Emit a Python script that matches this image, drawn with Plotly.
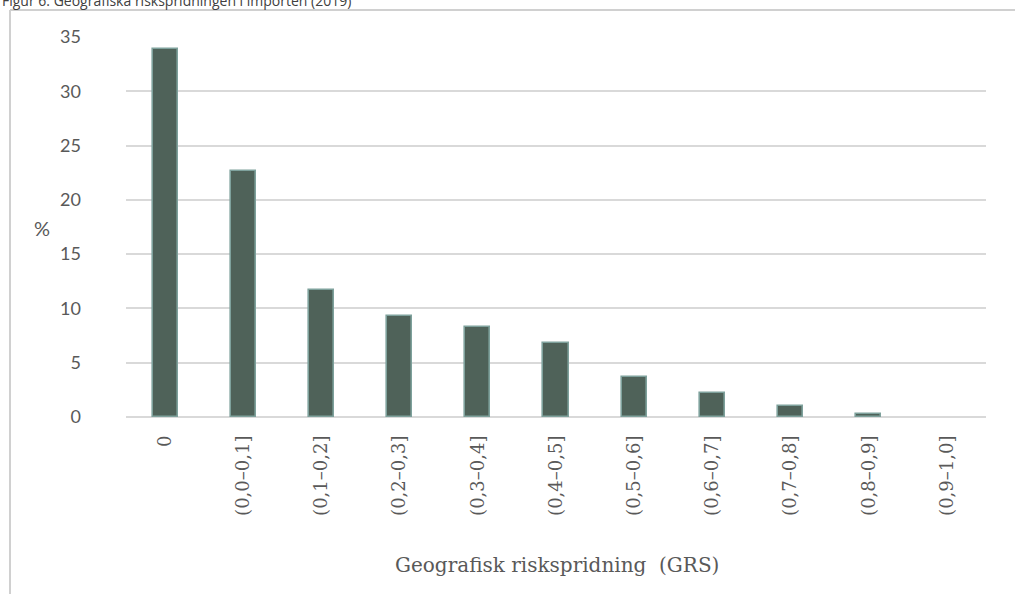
import plotly.graph_objects as go

categories = ["0", "(0,0–0,1]", "(0,1–0,2]", "(0,2–0,3]", "(0,3–0,4]", "(0,4–0,5]",
              "(0,5–0,6]", "(0,6–0,7]", "(0,7–0,8]", "(0,8–0,9]", "(0,9–1,0]"]
share_pct = [33.9, 22.7, 11.7, 9.3, 8.3, 6.8, 3.7, 2.2, 1.0, 0.25, 0.0]
y_ticks = [0, 5, 10, 15, 20, 25, 30, 35]

W, H = 1015, 594
L, R, T, B = 126, 29, 37, 177
pw, ph = W - L - R, H - T - B


def px(x):
    return (x - L) / pw


def py(y):
    return (H - B - y) / ph


fig = go.Figure()
fig.add_trace(go.Bar(
    x=list(range(len(categories))),
    y=share_pct,
    width=0.32,
    marker=dict(color="#4f6259",
                line=dict(color="#7ea19c",
                          width=[1.6 if v > 0 else 0 for v in share_pct])),
    hoverinfo="skip",
))

fig.update_layout(
    width=W, height=H,
    margin=dict(l=L, r=R, t=T, b=B),
    plot_bgcolor="white", paper_bgcolor="white",
    showlegend=False,
    bargap=0,
    xaxis=dict(
        range=[-0.5, len(categories) - 0.5],
        tickmode="array",
        tickvals=list(range(len(categories))),
        ticktext=categories,
        tickangle=-90,
        tickfont=dict(family="DejaVu Serif", size=18, color="#595959"),
        showgrid=False, zeroline=False, showline=False,
        ticks="", ticklabelstandoff=14,
        fixedrange=True,
    ),
    yaxis=dict(
        range=[0, 35],
        tickmode="array",
        tickvals=y_ticks,
        tickfont=dict(family="Lato", size=18, color="#595959"),
        showgrid=True, gridcolor="#d9d9d9", gridwidth=1.5,
        zeroline=True, zerolinecolor="#d9d9d9", zerolinewidth=1.5,
        showline=False, ticks="", ticklabelstandoff=44,
        fixedrange=True,
    ),
)

# outer frame of the figure panel
fig.add_shape(type="line", xref="paper", yref="paper",
              x0=px(10), x1=px(W + 5), y0=py(10), y1=py(10),
              line=dict(color="#d0d0d0", width=2))
fig.add_shape(type="line", xref="paper", yref="paper",
              x0=px(10), x1=px(10), y0=py(10), y1=py(H + 5),
              line=dict(color="#d0d0d0", width=2))

fig.add_annotation(text="Figur 6. Geografiska riskspridningen i importen (2019)",
                   xref="paper", yref="paper", x=px(0), y=py(1),
                   xanchor="left", yanchor="middle", showarrow=False,
                   font=dict(family="Open Sans", size=14, color="#404040"))
fig.add_annotation(text="%", xref="paper", yref="paper", x=px(42), y=py(228),
                   xanchor="center", yanchor="middle", showarrow=False,
                   font=dict(family="Lato", size=20, color="#595959"))
fig.add_annotation(text="Geografisk riskspridning  (GRS)", xref="paper", yref="paper",
                   x=px(557), y=py(565), xanchor="center", yanchor="middle",
                   showarrow=False,
                   font=dict(family="DejaVu Serif", size=20, color="#595959"))

fig.write_html("out.html")
